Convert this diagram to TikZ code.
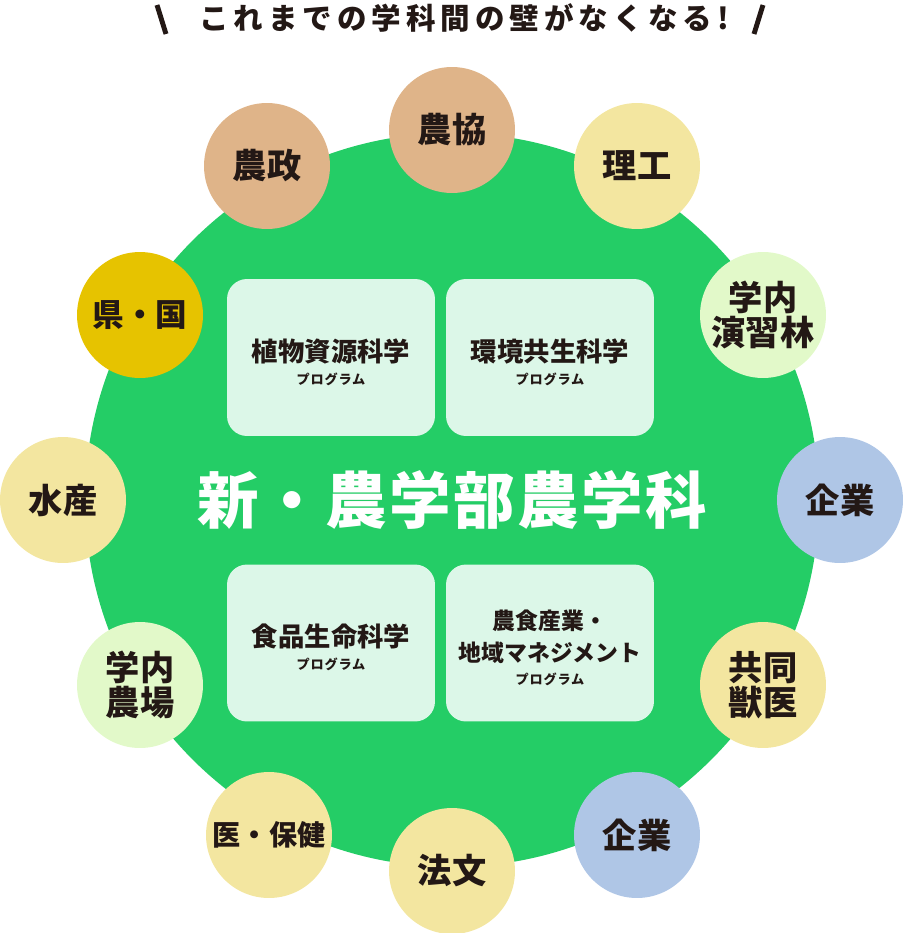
\documentclass[tikz,border=0pt]{standalone}
\usepackage{fontspec}
\setmainfont{Noto Sans CJK JP}
\newfontfamily\jp{Noto Sans CJK JP}
\usetikzlibrary{positioning}
\definecolor{Hub}{HTML}{24CD66}
\definecolor{Tan}{HTML}{DFB489}
\definecolor{Cream}{HTML}{F3E6A0}
\definecolor{Mint}{HTML}{E2F9C9}
\definecolor{Sky}{HTML}{AFC6E6}
\definecolor{Gold}{HTML}{E6C300}
\definecolor{Box}{HTML}{DCF7E8}
\definecolor{Ink}{HTML}{231815}

\newcommand{\pgmlabel}{{\fontsize{7.5}{9}\selectfont\addfontfeature{LetterSpace=6}プログラム}}

\begin{document}
\begin{tikzpicture}[
  x=0.02cm, y=-0.02cm,
  font=\jp,
  hub/.style={
    circle,
    fill=Hub,
    inner sep=0pt,
    minimum size=14.68cm,
    text=white,
    font=\jp\bfseries\fontsize{35}{40}\selectfont\addfontfeature{LetterSpace=4}
  },
  prog/.style={
    rounded corners=0.4cm,
    fill=Box,
    inner sep=0pt,
    minimum width=4.16cm,
    minimum height=3.14cm
  },
  progtext/.style={
    align=center,
    text=Ink,
    inner sep=0pt,
    font=\jp\bfseries\fontsize{15}{19}\selectfont
  },
  ring/.style={
    circle,
    inner sep=0pt,
    minimum size=2.52cm,
    align=center,
    text=Ink,
    font=\jp\bfseries\fontsize{19.5}{20}\selectfont
  },
  slash/.style={
    line width=2.8pt,
    draw=Ink
  }
]

\useasboundingbox (0,0) rectangle (903,933);

% heading
\node[text=Ink, font=\jp\bfseries\fontsize{16.8}{18}\selectfont\addfontfeature{LetterSpace=17}] (head) at (464,18)
  {これまでの学科間の壁がなくなる!};
\coordinate (ls1) at (157,5);
\coordinate (ls2) at (166,34);
\coordinate (rs1) at (763,5);
\coordinate (rs2) at (754,34);
\draw[slash] (ls1) -- (ls2);
\draw[slash] (rs1) -- (rs2);

\node[hub] (hub) at (452,500) {新・農学部農学科};

% programs
\node[prog] (plant) at (331,357.5) {};
\node[prog] (env) at (550,357.5) {};
\node[prog] (food) at (331,643) {};
\node[prog] (region) at (550,643) {};

\node[progtext] (planttxt) at ([yshift=-0.09cm]plant.center)
  {植物資源科学\\[-6pt]\pgmlabel};
\node[progtext] (envtxt) at ([yshift=-0.09cm]env.center)
  {環境共生科学\\[-6pt]\pgmlabel};
\node[progtext] (foodtxt) at ([yshift=-0.09cm]food.center)
  {食品生命科学\\[-6pt]\pgmlabel};
\node[progtext, font=\jp\bfseries\fontsize{13}{18}\selectfont] (regiontxt) at ([yshift=-0.1cm]region.center)
  {農食産業・\\地域マネジメント\\[-5pt]\pgmlabel};

% partners
\node[ring, fill=Tan] (nousei) at (267,166) {農政};
\node[ring, fill=Tan] (noukyou) at (452,130) {農協};
\node[ring, fill=Cream] (rikou) at (637,166) {理工};
\node[ring, fill=Mint] (enshurin) at (763,315) {学内\\演習林};
\node[ring, fill=Sky] (kigyo) at (840,500) {企業};
\node[ring, fill=Cream] (juui) at (763,685) {共同\\獣医};
\node[ring, fill=Sky] (kigyob) at (637,835) {企業};
\node[ring, fill=Cream] (houbun) at (452,871) {法文};
\node[ring, fill=Cream, font=\jp\bfseries\fontsize{16}{18}\selectfont] (iho) at (269,835) {医・保健};
\node[ring, fill=Mint] (noujou) at (140,685) {学内\\農場};
\node[ring, fill=Cream] (suisan) at (63,500) {水産};
\node[ring, fill=Gold, font=\jp\bfseries\fontsize{18}{20}\selectfont] (kenkoku) at (140,315) {県・国};

\end{tikzpicture}
\end{document}
